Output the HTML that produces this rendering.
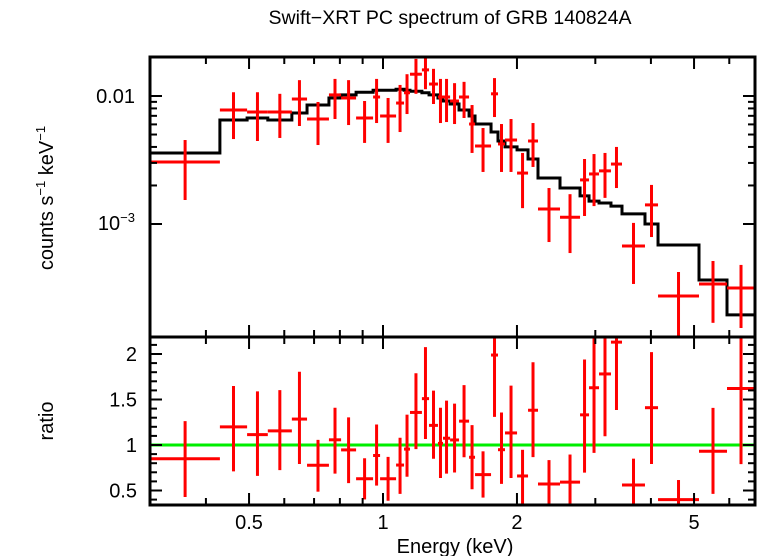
<!DOCTYPE html>
<html><head><meta charset="utf-8"><style>
html,body{margin:0;padding:0;background:#fff;}
svg{display:block;font-family:"Liberation Sans",sans-serif;}
</style></head><body>
<svg id="chart" width="758" height="556" viewBox="0 0 758 556" xmlns="http://www.w3.org/2000/svg">
<text x="450" y="24" font-size="19.5" text-anchor="middle">Swift−XRT PC spectrum of GRB 140824A</text>
<text transform="translate(53,198) rotate(-90)" font-size="20" text-anchor="middle">counts s<tspan font-size="13" dy="-8">−1</tspan><tspan dy="8"> keV</tspan><tspan font-size="13" dy="-8">−1</tspan></text>
<text transform="translate(53,421) rotate(-90)" font-size="20" text-anchor="middle">ratio</text>
<text x="455" y="553" font-size="20" text-anchor="middle">Energy (keV)</text>
<g id="g"></g>
</svg>
<script>
// bin edges (keV)
const binEdges=[0.30,0.43,0.495,0.551,0.624,0.675,0.756,0.805,0.870,0.950,0.985,1.070,1.115,1.150,1.223,1.269,1.329,1.364,1.415,1.482,1.561,1.610,1.749,1.813,1.880,2.001,2.118,2.230,2.499,2.772,2.904,3.058,3.253,3.444,3.879,4.150,5.130,5.930,6.855];
// data flux (1e-3 counts/s/keV)
const fluxVals=[3.05,7.78,7.50,7.50,9.47,6.61,10.2,9.65,6.73,9.82,6.98,8.81,10.6,14.8,16.0,12.4,9.82,9.82,9.14,9.82,6.04,4.07,10.4,4.22,4.53,2.50,4.45,1.31,1.13,2.21,2.46,2.60,2.94,0.673,1.41,0.274,0.340,0.316];
const fluxHi=[4.53,10.7,10.7,10.4,13.3,8.98,13.6,13.3,9.14,13.6,9.65,12.2,14.8,19.5,22,16.3,13.6,13.6,12.6,12.9,8.50,5.62,13.8,6.04,6.61,3.59,6.15,1.91,1.71,3.22,3.52,3.59,4.00,1.02,2.02,0.422,0.514,0.479];
const fluxLo=[1.54,4.61,4.45,4.70,5.83,4.14,6.61,5.93,4.30,6.15,4.30,5.23,7.23,10.4,11.3,8.66,6.15,6.26,6.04,6.73,3.59,2.55,6.85,2.55,2.55,1.33,2.79,0.723,0.593,1.155,1.38,1.60,1.91,0.340,0.791,0.08,0.169,0.154];
// folded model (1e-3)
const modelVals=[3.59,6.49,6.73,6.49,7.37,8.50,9.65,10.2,10.7,11.1,11.1,11.3,11.1,10.9,10.6,10.2,9.65,9.14,8.66,7.78,6.98,6.04,5.23,4.45,4.00,3.79,3.22,2.29,1.91,1.66,1.51,1.46,1.38,1.20,1.00,0.686,0.365,0.195];
const xTickVals=[0.5,1,2,5];
const xTickLabels=["0.5","1","2","5"];
const ratioTickVals=[0.5,1,1.5,2];
const ratioTickLabels=["0.5","1","1.5","2"];

const L=150,R=755,T=57,M=337,B=505;
const xs=e=>383+445*Math.log10(e);
const ys=v=>96-128*(Math.log10(v*1e-3)+2);
const yr=r=>445-91*(r-1);
const g=document.getElementById('g');
const NS='http://www.w3.org/2000/svg';
function mk(tag,at,parent){const el=document.createElementNS(NS,tag);for(const k in at)el.setAttribute(k,at[k]);(parent||g).appendChild(el);return el;}

const defs=mk('defs',{});
const c1=mk('clipPath',{id:'cTop'},defs);mk('rect',{x:L,y:T,width:R-L,height:M-T},c1);
const c2=mk('clipPath',{id:'cBot'},defs);mk('rect',{x:L,y:M,width:R-L,height:B-M},c2);

let d='';
for(let i=0;i<modelVals.length;i++){const x0=xs(binEdges[i]),x1=xs(binEdges[i+1]),y=ys(modelVals[i]);d+=(i?'L':'M')+x0+' '+y+'L'+x1+' '+y;}
const model=mk('path',{d:d,fill:'none',stroke:'#000','stroke-width':3,'clip-path':'url(#cTop)'});



const ratioLine=mk('line',{x1:L,x2:R,y1:yr(1),y2:yr(1),stroke:'#00ee00','stroke-width':3});


for(let i=0;i<fluxVals.length;i++){
  const e0=binEdges[i],e1=binEdges[i+1],ec=Math.sqrt(e0*e1);
  const xc=xs(ec);
  const gp=mk('g',{stroke:'#f00','stroke-width':3,'clip-path':'url(#cTop)'});
  
  
  mk('line',{x1:xs(e0),x2:xs(e1),y1:ys(fluxVals[i]),y2:ys(fluxVals[i])},gp);
  mk('line',{x1:xc,x2:xc,y1:ys(fluxHi[i]),y2:ys(fluxLo[i])},gp);
  const m=modelVals[i];
  const gr=mk('g',{stroke:'#f00','stroke-width':3,'clip-path':'url(#cBot)'});
  
  
  mk('line',{x1:xs(e0),x2:xs(e1),y1:yr(fluxVals[i]/m),y2:yr(fluxVals[i]/m)},gr);
  mk('line',{x1:xc,x2:xc,y1:yr(fluxHi[i]/m),y2:yr(fluxLo[i]/m)},gr);
}

const tk=mk('g',{stroke:'#000','stroke-width':2});


for(let e=0.3;e<7;e+=(e<0.95?0.1:1)){
  const v=Math.round(e*10)/10;const x=xs(v);if(x<L||x>R)continue;
  const major=xTickVals.includes(v);const len=major?12:7;
  [T,M].forEach(y=>mk('line',{x1:x,x2:x,y1:y,y2:y+len},tk));
  [M,B].forEach(y=>mk('line',{x1:x,x2:x,y1:y,y2:y-len},tk));
}
[1,10].forEach(dec=>{for(let k=1;k<10;k++){const v=dec*k*0.1;const y=ys(v*10);if(y<T||y>M)continue;const len=k==1?12:7;
  mk('line',{x1:L,x2:L+len,y1:y,y2:y},tk);mk('line',{x1:R,x2:R-len,y1:y,y2:y},tk);}});
for(let r=0.4;r<=2.15;r+=0.1){const v=Math.round(r*10)/10;const y=yr(v);if(y<M||y>B)continue;const len=ratioTickVals.includes(v)?12:7;
  mk('line',{x1:L,x2:L+len,y1:y,y2:y},tk);mk('line',{x1:R,x2:R-len,y1:y,y2:y},tk);}

const f1=mk('rect',{x:L,y:T,width:R-L,height:M-T,fill:'none',stroke:'#000','stroke-width':3});


const f2=mk('rect',{x:L,y:M,width:R-L,height:B-M,fill:'none',stroke:'#000','stroke-width':3});



xTickVals.forEach((v,i)=>{const t=mk('text',{x:xs(v),y:529,'font-size':20,'text-anchor':'middle'});t.textContent=xTickLabels[i];
  
  });
const t01=mk('text',{x:135,y:103,'font-size':20,'text-anchor':'end'});t01.textContent='0.01';


const t3=mk('text',{x:135,y:230,'font-size':20,'text-anchor':'end'});


t3.innerHTML='10<tspan font-size="13" dy="-8">−3</tspan>';
ratioTickVals.forEach((v,i)=>{const t=mk('text',{x:137,y:yr(v)+7,'font-size':20,'text-anchor':'end'});t.textContent=ratioTickLabels[i];
  
  });
</script>
</body></html>
